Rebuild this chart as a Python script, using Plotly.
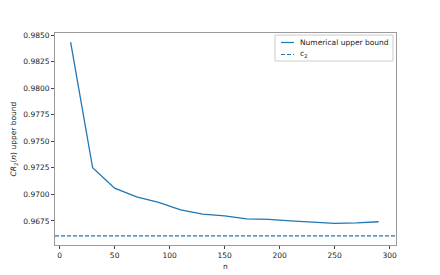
import plotly.graph_objects as go

n_vals = [10, 30, 50, 70, 90, 110, 130, 150, 170, 190, 210, 230, 250, 270, 290]
upper_bound = [0.98433, 0.97250, 0.97058, 0.96977, 0.96925, 0.96854, 0.96813, 0.96797,
               0.96769, 0.96764, 0.96750, 0.96738, 0.96726, 0.96731, 0.96742]
c2 = 0.96608
y_ticks = [0.9675, 0.9700, 0.9725, 0.9750, 0.9775, 0.9800, 0.9825, 0.9850]
x_ticks = [0, 50, 100, 150, 200, 250, 300]
legend_labels = ["Numerical upper bound", "c<sub>2</sub>"]

BLUE = "#1f77b4"
FONT = "DejaVu Sans"
W, H = 440, 275
L, R, T, B = 55, 44, 33, 30
PW, PH = W - L - R, H - T - B


def px(x):
    return (x - L) / PW


def py(y):
    return (H - B - y) / PH


fig = go.Figure()
fig.add_trace(go.Scatter(x=n_vals, y=upper_bound, mode="lines",
                         line=dict(color=BLUE, width=1.3),
                         name=legend_labels[0], showlegend=False))
fig.add_shape(type="line", xref="x domain", yref="y", x0=0, x1=1, y0=c2, y1=c2,
              line=dict(color=BLUE, width=1.2, dash="4px,2px"))

# legend drawn by hand (compact, matplotlib-like)
fig.add_shape(type="rect", xref="paper", yref="paper",
              x0=px(275), x1=px(393), y0=py(61), y1=py(35),
              line=dict(color="#cccccc", width=1), fillcolor="rgba(255,255,255,0.9)")
styles = [None, "4px,2px"]
rows = [42.5, 54.5]
for lab, dash, yy in zip(legend_labels, styles, rows):
    fig.add_shape(type="line", xref="paper", yref="paper",
                  x0=px(281), x1=px(294), y0=py(yy), y1=py(yy),
                  line=dict(color=BLUE, width=1.2, dash=dash or "solid"))
    fig.add_annotation(text=lab, xref="paper", yref="paper", x=px(298), y=py(yy),
                       xanchor="left", yanchor="middle", showarrow=False,
                       font=dict(family=FONT, size=7.5, color="#222"))

axis_common = dict(showgrid=False, zeroline=False, showline=True, mirror=True,
                   linecolor="#9a9a9a", linewidth=1, ticks="outside", ticklen=3,
                   tickwidth=1, tickcolor="#444", automargin=False,
                   tickfont=dict(family=FONT, size=7.5, color="#222"))

fig.update_xaxes(range=[-4.2, 305.8], tickvals=x_ticks,
                 title=dict(text="n", font=dict(family=FONT, size=7.5, color="#222"), standoff=4),
                 **axis_common)
fig.update_yaxes(range=[0.96523, 0.98519], tickvals=y_ticks, tickformat=".4f",
                 title=dict(text="<i>CR</i><sub>2</sub>(<i>n</i>) upper bound",
                            font=dict(family=FONT, size=7.5, color="#222"), standoff=5),
                 **axis_common)

fig.update_layout(width=W, height=H,
                  margin=dict(l=L, r=R, t=T, b=B),
                  plot_bgcolor="white", paper_bgcolor="white",
                  showlegend=False,
                  font=dict(family=FONT, size=7.5, color="#222"))

fig.write_html("out.html", config={"displayModeBar": False},
               post_script="document.body.style.margin='0';document.body.style.overflow='hidden';")
